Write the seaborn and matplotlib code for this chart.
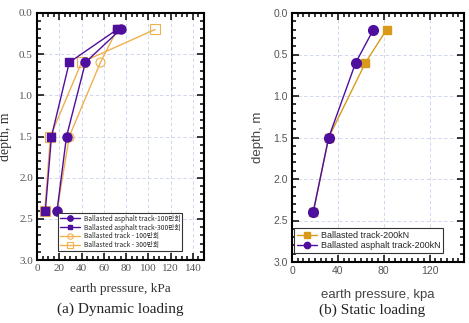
import matplotlib
matplotlib.use("Agg")
import matplotlib.pyplot as plt
import seaborn as sns
import pandas as pd
from matplotlib.ticker import MultipleLocator

sns.set_theme(style="ticks")

depth = [0.2, 0.6, 1.5, 2.4]
# (a) dynamic loading
asph_100 = [75, 43.5, 26.5, 18]
asph_300 = [72, 29, 13, 7.5]
ball_100 = [72, 57, 29, 18]
ball_300 = [106, 40, 12, 7]
# (b) static loading
ball_200kN = [82.5, 64, 32, 18.5]
asph_200kN = [71, 55.5, 32, 18.5]

labels_a = ["Ballasted asphalt track-100만회", "Ballasted asphalt track-300만회",
            "Ballasted track - 100만회", "Ballasted track - 300만회"]
labels_b = ["Ballasted track-200kN", "Ballasted asphalt track-200kN"]

PURPLE = "#4E0E9E"
ORANGE_L = "#F0B04E"
ORANGE = "#D99A1C"

fig = plt.figure(figsize=(4.69, 3.23), dpi=100)
axA = fig.add_axes([37/469, 1-260/323, 167/469, 247/323])
axB = fig.add_axes([292/469, 1-262/323, 172/469, 249/323])

serif = ["Liberation Serif", "DejaVu Serif"]
sans = ["Liberation Sans", "DejaVu Sans"]
cjk = ["Noto Sans CJK KR", "DejaVu Sans"]

def draw(ax, xs, lab, color, marker, ms, filled=True, lw=1.0):
    df = pd.DataFrame({"p": xs, "d": depth})
    sns.lineplot(data=df, x="p", y="d", sort=False, ax=ax, color=color, lw=lw,
                 marker=marker, markersize=ms, label=lab,
                 markerfacecolor=color if filled else "none",
                 markeredgecolor=color, markeredgewidth=1.0 if filled else 0.8,
                 zorder=3 if filled else 2)

draw(axA, asph_100, labels_a[0], PURPLE, "o", 6.5)
draw(axA, asph_300, labels_a[1], PURPLE, "s", 5.5)
draw(axA, ball_100, labels_a[2], ORANGE_L, "o", 6.5, filled=False)
draw(axA, ball_300, labels_a[3], ORANGE_L, "s", 6.5, filled=False)

draw(axB, ball_200kN, labels_b[0], ORANGE, "s", 6)
draw(axB, asph_200kN, labels_b[1], PURPLE, "o", 7)

for ax, xt, tickfam in [(axA, 20, serif), (axB, 40, sans)]:
    ax.set_xlim(0, 150)
    ax.set_ylim(3.0, 0.0)
    ax.set_xticks([t for t in range(0, 150, xt)])
    ax.xaxis.set_minor_locator(MultipleLocator(5))
    ax.set_yticks([0.0, 0.5, 1.0, 1.5, 2.0, 2.5, 3.0])
    ax.set_yticklabels([f"{v:.1f}" for v in [0.0, 0.5, 1.0, 1.5, 2.0, 2.5, 3.0]])
    ax.yaxis.set_minor_locator(MultipleLocator(0.1))
    ax.tick_params(which="both", direction="in", top=True, right=True,
                   left=True, bottom=True, width=1.1, color="black")
    ax.tick_params(which="major", length=5, labelsize=8, pad=3, labelcolor="#555555")
    ax.tick_params(which="minor", length=3)
    for lbl in ax.get_xticklabels() + ax.get_yticklabels():
        lbl.set_family(tickfam)
    for s in ax.spines.values():
        s.set_color("black")
        s.set_linewidth(1.5)
    ax.grid(True, which="major", color="#C8D0EC", linestyle=(0, (4, 3)), lw=0.6)
    ax.set_axisbelow(True)

axB.tick_params(which="major", labelsize=7.5)

axA.set_xlabel("earth pressure, kPa", family=serif, fontsize=9.5, color="#333333", labelpad=7)
axA.set_ylabel("depth, m", family=serif, fontsize=10, color="#333333", labelpad=5)
axB.set_xlabel("earth pressure, kpa", family=sans, fontsize=9.5, color="#444444", labelpad=9)
axB.set_ylabel("depth, m", family=sans, fontsize=9.5, color="#444444", labelpad=7)

legA = axA.legend(loc="lower right", bbox_to_anchor=(0.87, 0.036), prop={"family": cjk, "size": 4.8},
                  frameon=True, fancybox=False, edgecolor="#333333", framealpha=1,
                  borderpad=0.3, labelspacing=0.12, handlelength=3.0, handletextpad=0.6,
                  borderaxespad=0.0, markerscale=0.6)
legA.get_frame().set_linewidth(0.8)
legB = axB.legend(loc="lower right", bbox_to_anchor=(0.88, 0.036), prop={"family": sans, "size": 6.5},
                  frameon=True, fancybox=False, edgecolor="#333333", framealpha=1,
                  borderpad=0.3, labelspacing=0.15, handlelength=2.2, handletextpad=0.5,
                  borderaxespad=0.0, markerscale=0.65)
legB.get_frame().set_linewidth(0.8)

fig.text(120/469, 1-309/323, "(a) Dynamic loading", family=serif, fontsize=11,
         ha="center", va="center", color="#222222")
fig.text(372/469, 1-310/323, "(b) Static loading", family=serif, fontsize=11,
         ha="center", va="center", color="#222222")

fig.savefig("out.png", dpi=100)
